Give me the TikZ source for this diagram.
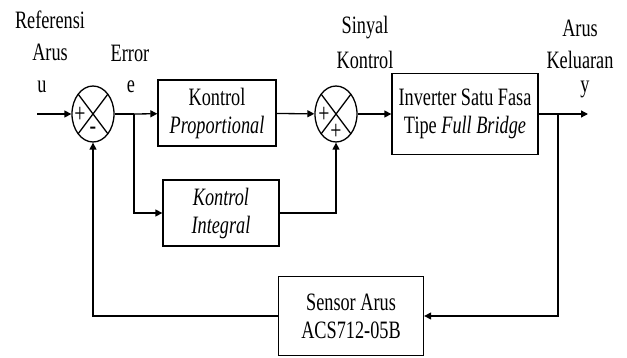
\documentclass[tikz,border=0pt]{standalone}
\usepackage{fontspec}
\setmainfont{Liberation Serif}[
    FakeStretch=0.73,
    ItalicFont={Liberation Serif Italic},
    BoldFont={Liberation Serif Bold}]
\usetikzlibrary{arrows.meta,shapes.geometric}

\begin{document}
\begin{tikzpicture}[
    x=1pt, y=-1pt,
    % Gaya untuk blok sistem
    blok/.style={draw, line width=1.3pt, align=center, inner sep=0pt,
        font=\fontsize{25}{28}\selectfont},
    % Gaya untuk titik penjumlahan (elips dengan tanda silang)
    jumlah/.style={draw, ellipse, line width=1.3pt, minimum width=42pt,
        minimum height=56pt, inner sep=0pt,
        path picture={
            \draw[line width=1.3pt]
                (path picture bounding box.north west) -- (path picture bounding box.south east)
                (path picture bounding box.north east) -- (path picture bounding box.south west);
        }
    },
    panah/.style={line width=1.3pt, -{Triangle[length=7pt,width=7pt]}},
    garis/.style={line width=1.3pt},
    teks/.style={font=\fontsize{25}{28}\selectfont, inner sep=0pt},
    tanda/.style={font=\fontsize{27}{27}\selectfont, inner sep=0pt}
]
    \useasboundingbox (0,0) rectangle (627,358);

    % Titik penjumlahan
    \node[jumlah] (s1) at (93,114) {};
    \node[jumlah] (s2) at (336,114) {};
    \node[tanda] (p1) at (80,115) {+};
    \node[tanda] (m1) at (93,131) {-};
    \node[tanda] (p2) at (324,115) {+};
    \node[tanda] (p3) at (336,132) {+};

    % Blok-blok sistem
    \node[blok, minimum width=118pt, minimum height=66pt] (kp) at (217,113) {Kontrol\\\textit{Proportional}};
    \node[blok, minimum width=116pt, minimum height=66pt] (ki) at (221,213) {\textit{Kontrol}\\\textit{Integral}};
    \node[blok, minimum width=146pt, minimum height=81pt] (inv) at (465,114) {Inverter Satu Fasa\\Tipe \textit{Full Bridge}};
    \node[blok, minimum width=145pt, minimum height=79pt] (sen) at (351,316) {Sensor Arus\\ACS712-05B};

    % Titik cabang dan ujung bebas
    \coordinate (masuk) at (37,114);
    \coordinate (cab1) at (134,114);
    \coordinate (cab2) at (558,114);
    \coordinate (keluar) at (588,114);

    % Jalur sinyal maju
    \draw[panah] (masuk) -- (s1);
    \draw[garis] (s1) -- (cab1);
    \draw[panah] (cab1) -- (kp);
    \draw[panah] (cab1) |- (ki);
    \draw[panah] (ki) -| (s2);
    \draw[panah] (kp) -- (s2);
    \draw[panah] (s2) -- (inv);
    \draw[garis] (inv) -- (cab2);
    \draw[panah] (cab2) -- (keluar);

    % Jalur umpan balik
    \draw[panah] (cab2) |- (sen);
    \draw[panah] (sen) -| (s1);

    % Keterangan sinyal
    \node[teks] (ref) at (50,20) {Referensi};
    \node[teks] (arus1) at (50,52) {Arus};
    \node[teks] (u) at (42,87) {u};
    \node[teks] (err) at (130,53) {Error};
    \node[teks] (e) at (131,87) {e};
    \node[teks] (sin) at (365,28) {Sinyal};
    \node[teks] (kon) at (365,60) {Kontrol};
    \node[teks] (arus2) at (580,28) {Arus};
    \node[teks] (kel) at (580,60) {Keluaran};
    \node[teks] (y) at (585,89) {y};
\end{tikzpicture}
\end{document}
